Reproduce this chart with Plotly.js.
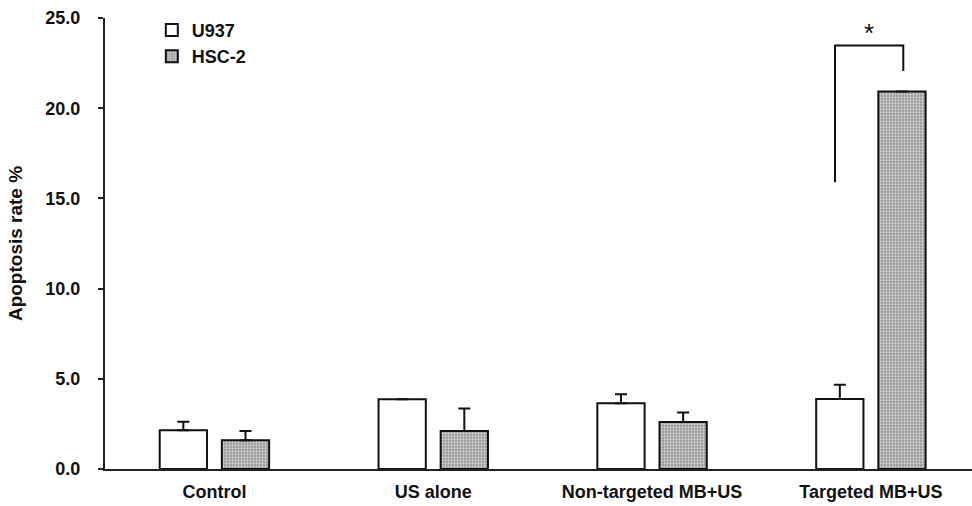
<!DOCTYPE html>
<html>
<head>
<meta charset="utf-8">
<script src="https://cdn.plot.ly/plotly-3.0.1.min.js"></script>
<style>html,body{margin:0;padding:0;background:#fff}#chart{width:972px;height:506px}</style>
</head>
<body>
<div id="chart"></div>
<script>
const categories = ["Control", "US alone", "Non-targeted MB+US", "Targeted MB+US"];
const u937Values = [2.15, 3.87, 3.65, 3.88];
const u937Errors = [0.47, NaN, 0.5, 0.79];
const hsc2Values = [1.6, 2.1, 2.6, 20.93];
const hsc2Errors = [0.5, 1.26, 0.53, NaN];
const yTicks = [0, 5, 10, 15, 20, 25];
const bracketX = [2.836, 3.148];      // left and right leg positions (category units)
const bracketY = [15.9, 23.47, 22.06]; // left leg bottom, top, right leg bottom
const sigLabel = "*";

const FONT = "Liberation Sans, Arial, Helvetica, sans-serif";

const traces = [
  {
    type: "bar", name: "U937", x: categories, y: u937Values,
    width: 0.216, offset: -0.25,
    marker: {color: "#ffffff", line: {color: "#111", width: 2}},
    error_y: {type: "data", symmetric: false, array: u937Errors,
      arrayminus: u937Errors.map(() => 0), color: "#111", thickness: 2, width: 6}
  },
  {
    type: "bar", name: "HSC-2", x: categories, y: hsc2Values,
    width: 0.216, offset: 0.034,
    marker: {color: "#a4a4a4", line: {color: "#111", width: 2},
      pattern: {shape: ".", bgcolor: "#969696", fgcolor: "#d2d2d2", size: 3, solidity: 0.45}},
    error_y: {type: "data", symmetric: false, array: hsc2Errors,
      arrayminus: hsc2Errors.map(() => 0), color: "#111", thickness: 2, width: 6}
  }
];

const layout = {
  width: 972, height: 506,
  margin: {l: 105, r: 0, t: 18, b: 37},
  paper_bgcolor: "#fff", plot_bgcolor: "#fff",
  barmode: "group",
  showlegend: true,
  font: {family: FONT, size: 17, color: "#111"},
  legend: {x: 0.054, y: 1.014, xanchor: "left", yanchor: "top",
    font: {family: FONT, size: 18, color: "#111", weight: "bold"},
    bgcolor: "rgba(0,0,0,0)", tracegroupgap: 0},
  xaxis: {
    type: "category", range: [-0.5, 3.462],
    showline: true, linecolor: "#222", linewidth: 2,
    ticks: "", showgrid: false, zeroline: false,
    tickfont: {family: FONT, size: 18, color: "#111", weight: "bold"},
    ticklabelstandoff: 5
  },
  yaxis: {
    range: [0, 25], tickvals: yTicks, tickformat: ".1f",
    showline: true, linecolor: "#222", linewidth: 2,
    ticks: "outside", ticklen: 5, tickwidth: 2, tickcolor: "#222",
    showgrid: false, zeroline: false,
    tickfont: {family: FONT, size: 18, color: "#111", weight: "bold"},
    ticklabelstandoff: 14,
    title: {text: "Apoptosis rate %", standoff: 18,
      font: {family: FONT, size: 19, color: "#111", weight: "bold"}}
  },
  shapes: [
    {type: "path", xref: "x", yref: "y",
      path: `M ${bracketX[0]} ${bracketY[0]} L ${bracketX[0]} ${bracketY[1]} L ${bracketX[1]} ${bracketY[1]} L ${bracketX[1]} ${bracketY[2]}`,
      line: {color: "#111", width: 2}}
  ],
  annotations: [
    {x: (bracketX[0] + bracketX[1]) / 2, y: bracketY[1], xref: "x", yref: "y",
      text: sigLabel, showarrow: false, yanchor: "bottom", yshift: -4,
      font: {family: FONT, size: 26, color: "#111"}}
  ]
};

Plotly.newPlot("chart", traces, layout, {staticPlot: true});
</script>
</body>
</html>
